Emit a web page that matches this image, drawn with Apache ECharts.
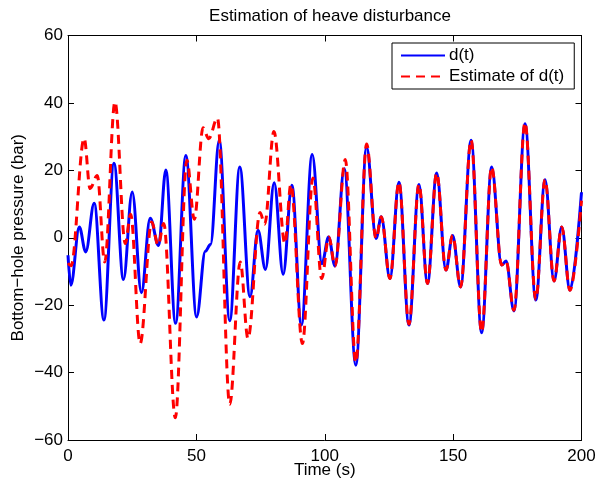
<!DOCTYPE html>
<html>
<head>
<meta charset="utf-8">
<script src="https://cdn.jsdelivr.net/npm/echarts@6/dist/echarts.min.js"></script>
<style>
html,body{margin:0;padding:0;background:#fff;}
#c{width:596px;height:486px;}
</style>
</head>
<body>
<div id="c"></div>
<script>
var titleText = 'Estimation of heave disturbance';
var xName = 'Time (s)';
var yName = 'Bottom\u2212hole pressure (bar)';
var seriesNames = ['d(t)', 'Estimate of d(t)'];

var dTime = [0, 1.1, 4.4, 6.9, 10.2, 14, 17.9, 21.6, 25, 28.6, 32, 35.3, 38.1, 41.9, 45.9, 50.1, 53.5, 55.5, 58.9, 63, 66.9, 70.9, 74, 76.9, 80.3, 83.8, 87.2, 90.9, 95.1, 98.9, 101.5, 104, 107.6, 112.1, 116.3, 120, 122, 125.4, 128.9, 132.8, 136.7, 140, 143.6, 147.2, 149.8, 152.9, 157, 161.1, 165, 168.9, 170.6, 173.7, 178, 182.2, 185.8, 189.3, 192.3, 195.5, 200];
var dValue = [-5.2, -14.1, 3.2, -4.2, 10.2, -24.4, 22.1, -12.4, 13.6, -16.3, 5.8, -2.3, 20.1, -25.4, 24.4, -23.5, -4, -2, 28.9, -24.6, 21, -17.5, 2.2, -9.4, 16.3, -10.8, 15.6, -25.9, 24.7, -7.7, 0.2, -8.4, 20.5, -37.8, 26.9, -0.2, 6.2, -12.1, 16.5, -25.9, 15.8, -13.6, 19.2, -9.6, 0.7, -14.6, 28.9, -28.2, 21, -8.1, -6.9, -21.7, 33.8, -18.5, 17.2, -12.8, 3.2, -15.6, 13.5];

var eTime = [0, 1.2, 6.3, 8.6, 11.4, 14.3, 18.3, 22.3, 24.4, 28.1, 32.6, 35.1, 37.3, 41.8, 46.3, 49.2, 52.6, 54.8, 58.2, 63, 67.1, 70.1, 74.8, 76.6, 80.2, 84.5, 86.8, 91.3, 95.4, 98.8, 101.6, 104, 108, 112.1, 116.3, 120, 122, 125.4, 128.9, 132.8, 136.7, 140, 143.6, 147.2, 149.8, 152.9, 157, 161.1, 165, 168.9, 170.6, 173.7, 178, 182.2, 185.8, 189.3, 192.3, 195.5, 200];
var eValue = [-7.5, -8.3, 29.5, 14.6, 18.5, -7.2, 40.3, -1.7, 7, -31.4, 4.7, -2.2, 4.2, -53.4, 23, 5.5, 32.6, 29.4, 35.5, -49.4, -7.2, -29.9, 7.5, 4, 31.5, -1.7, 15.8, -31.4, 17.7, -12.1, 0.2, -8.4, 23.2, -37, 27.8, -0.2, 6.2, -12.1, 16.5, -25.6, 15.8, -13.6, 19.2, -9.6, 0.7, -14.6, 29, -28, 21, -8.1, -6.9, -21.5, 34.2, -18.3, 17.2, -12.8, 3.2, -15.6, 11];

var xTicks = [0, 200, 50];
var yTicks = [-60, 60, 20];

function pairs(t, v) { return t.map(function (x, i) { return [x, v[i]]; }); }
function fmt(v) { return String(v).replace('-', '\u2212'); }

var font = 'Liberation Sans, Arial, Helvetica, sans-serif';
var fs = 17;
var chart = echarts.init(document.getElementById('c'), null, {renderer: 'canvas'});

var axisCommon = {
  axisLine: {show: true, onZero: false, lineStyle: {color: '#000', width: 1}},
  axisTick: {show: true, inside: true, length: 6, lineStyle: {color: '#000'}},
  splitLine: {show: false}
};

chart.setOption({
  animation: false,
  backgroundColor: '#fff',
  title: {
    text: titleText, left: 325, top: 3, textAlign: 'center',
    textStyle: {fontFamily: font, fontSize: fs, fontWeight: 'normal', color: '#000'}
  },
  grid: {left: 68, right: 14.5, top: 35.5, bottom: 46, containLabel: false, outerBoundsMode: 'none'},
  legend: {
    orient: 'vertical', left: 392, top: 43,
    backgroundColor: '#fff', borderColor: '#000', borderWidth: 1,
    padding: [4, 10, 4, 8], itemGap: 4, itemWidth: 44, itemHeight: 16,
    itemStyle: {opacity: 0, color: 'transparent', borderWidth: 0},
    textStyle: {fontFamily: font, fontSize: fs, color: '#000', padding: [0, 0, 0, -1]},
    data: seriesNames
  },
  xAxis: [
    Object.assign({
      type: 'value', min: xTicks[0], max: xTicks[1], interval: xTicks[2],
      name: xName, nameLocation: 'middle', nameGap: 22, nameMoveOverlap: false,
      nameTextStyle: {fontFamily: font, fontSize: fs, color: '#000'},
      axisLabel: {fontFamily: font, fontSize: fs, color: '#000', margin: 8, formatter: fmt}
    }, axisCommon),
    Object.assign({
      type: 'value', min: xTicks[0], max: xTicks[1], interval: xTicks[2], position: 'top',
      axisLabel: {show: false}
    }, axisCommon)
  ],
  yAxis: [
    Object.assign({
      type: 'value', min: yTicks[0], max: yTicks[1], interval: yTicks[2],
      name: yName, nameLocation: 'middle', nameGap: 41, nameMoveOverlap: false, nameRotate: 90,
      nameTextStyle: {fontFamily: font, fontSize: fs, color: '#000'},
      axisLabel: {fontFamily: font, fontSize: fs, color: '#000', margin: 5, formatter: fmt}
    }, axisCommon),
    Object.assign({
      type: 'value', min: yTicks[0], max: yTicks[1], interval: yTicks[2], position: 'right',
      axisLabel: {show: false}
    }, axisCommon)
  ],
  series: [
    {
      name: seriesNames[0], type: 'line', xAxisIndex: 0, yAxisIndex: 0,
      data: pairs(dTime, dValue), symbol: 'none', showSymbol: false,
      smooth: 0.36, smoothMonotone: 'x',
      lineStyle: {color: '#0000ff', width: 3},
      itemStyle: {color: '#0000ff'},
      z: 2
    },
    {
      name: seriesNames[1], type: 'line', xAxisIndex: 0, yAxisIndex: 0,
      data: pairs(eTime, eValue), symbol: 'none', showSymbol: false,
      smooth: 0.36, smoothMonotone: 'x',
      lineStyle: {color: '#ff0000', width: 3, type: [9, 6]},
      itemStyle: {color: '#ff0000'},
      z: 3
    }
  ]
});
</script>
</body>
</html>
